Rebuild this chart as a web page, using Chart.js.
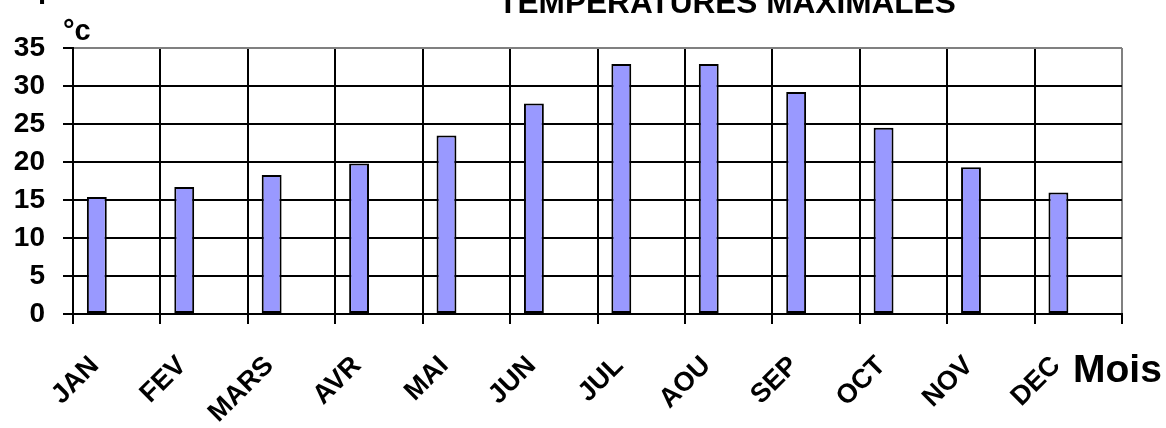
<!DOCTYPE html>
<html>
<head>
<meta charset="utf-8">
<script src="https://cdn.jsdelivr.net/npm/chart.js@4.4.1/dist/chart.umd.min.js"></script>
<style>
  body { margin: 0; background: #fff; }
  #wrap { width: 1166px; height: 428px; }
</style>
</head>
<body>
<div id="wrap"><canvas id="tempChart" width="1166" height="428"></canvas></div>
<script>
// data
const months = ["JAN", "FEV", "MARS", "AVR", "MAI", "JUN", "JUL", "AOU", "SEP", "OCT", "NOV", "DEC"];
const tempMax = [15.4, 16.7, 18.3, 19.8, 23.5, 27.7, 32.9, 32.9, 29.2, 24.5, 19.3, 16.0];
const emptySeries = [];   // second (empty) series, keeps bars on the left of each month
const tempTicks = [0, 5, 10, 15, 20, 25, 30, 35];

const chartTitle = "TEMPERATURES MAXIMALES";
const unitLabel = "°c";
const axisLabel = "Mois";

const fontFamily = "'Liberation Sans', Arial, sans-serif";

// extra texts that are not part of the axes
const extraLabels = {
    id: "extraLabels",
    afterDraw(chart) {
        let ctx = chart.ctx;
        ctx.save();
        ctx.fillStyle = "#000";
        ctx.textBaseline = "alphabetic";

        ctx.textAlign = "center";
        ctx.font = "bold 28px " + fontFamily;
        ctx.fillText("T", 42, 4);

        ctx.font = "bold 31.6px " + fontFamily;
        ctx.fillText(chartTitle, 727, 13);

        ctx.textAlign = "left";
        ctx.font = "bold 29px " + fontFamily;
        ctx.fillText(unitLabel, 63, 40);

        ctx.font = "bold 39px " + fontFamily;
        ctx.fillText(axisLabel, 1073, 382);
        ctx.restore();
    }
};

let ctx = document.getElementById("tempChart").getContext("2d");
new Chart(ctx, {
    type: "bar",
    data: {
        labels: months,
        datasets: [{
            label: "T max",
            data: tempMax,
            backgroundColor: "#9999ff",
            borderColor: "#000",
            borderWidth: 2,
            borderSkipped: false,
            categoryPercentage: 0.91,
            barPercentage: 0.5
        }, {
            label: "",
            data: emptySeries,
            categoryPercentage: 0.91,
            barPercentage: 0.5
        }]
    },
    options: {
        responsive: false,
        animation: false,
        layout: {
            padding: { top: 48, right: 44, left: 0, bottom: 0 }
        },
        plugins: {
            legend: { display: false },
            tooltip: { enabled: false },
            title: { display: false }
        },
        scales: {
            x: {
                afterFit: (scale) => { scale.height = 114; },
                grid: {
                    offset: true,
                    color: (c) => c.tick ? "#000" : "#808080",
                    tickColor: "#000",
                    lineWidth: 2,
                    tickLength: 10
                },
                border: { display: true, color: "#000", width: 2 },
                ticks: {
                    autoSkip: false,
                    minRotation: 45,
                    maxRotation: 45,
                    padding: 26,
                    labelOffset: -22,
                    color: "#000",
                    font: { family: fontFamily, size: 27, weight: "bold" }
                }
            },
            y: {
                min: 0,
                max: 35,
                afterFit: (scale) => { scale.width = 73; },
                afterBuildTicks: (scale) => {
                    scale.ticks = tempTicks.map(v => ({ value: v }));
                },
                grid: {
                    color: (c) => (c.tick && c.tick.value === 35) ? "#808080" : "#000",
                    tickColor: "#000",
                    lineWidth: 2,
                    tickLength: 10
                },
                border: { display: true, color: "#000", width: 2 },
                ticks: {
                    padding: 18,
                    color: "#000",
                    font: { family: fontFamily, size: 28, weight: "bold" }
                }
            }
        }
    },
    plugins: [extraLabels]
});
</script>
</body>
</html>
